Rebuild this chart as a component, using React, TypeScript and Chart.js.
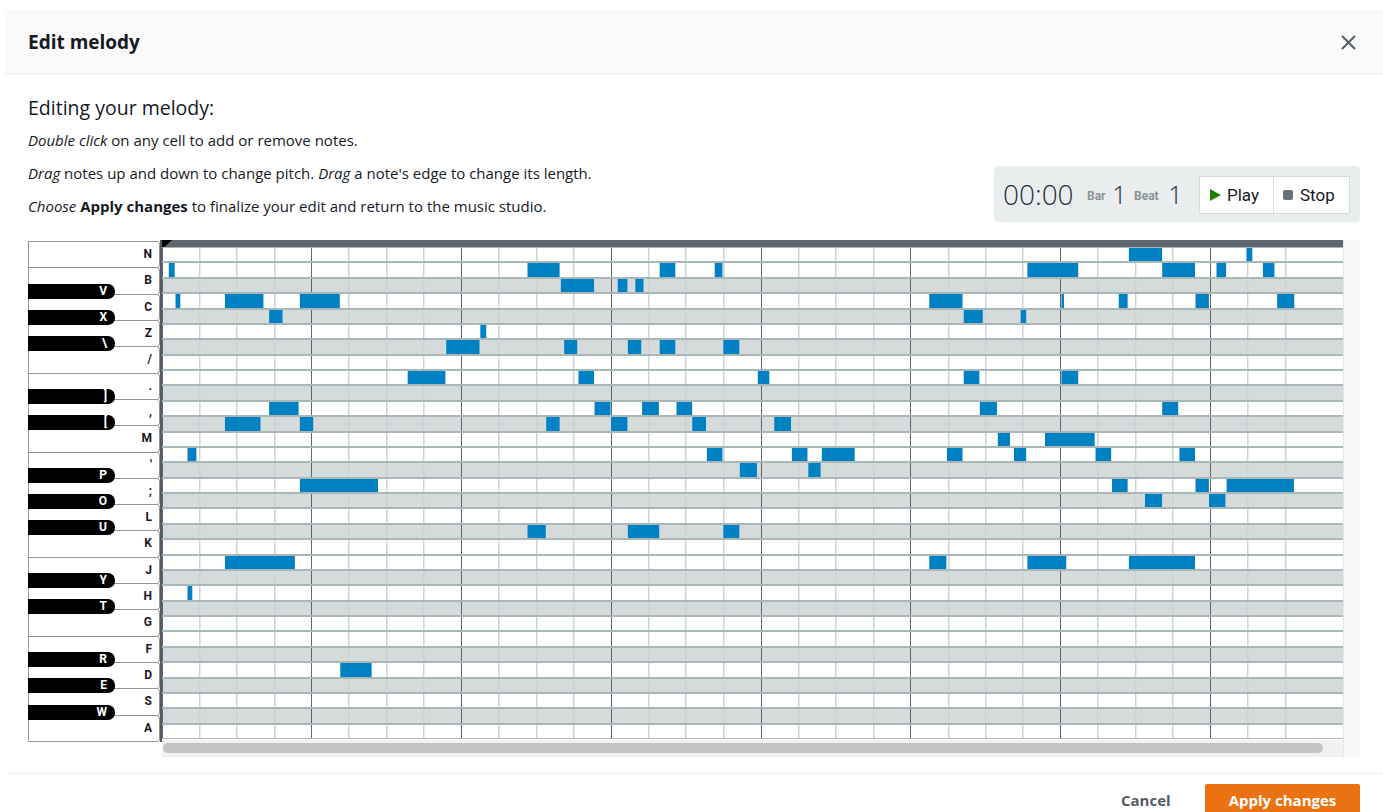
import React, { useEffect, useRef } from 'react';
import { Chart, registerables } from 'chart.js';

Chart.register(...registerables);

// ---- data ----
const keyRows = ['N', 'B', 'V', 'C', 'X', 'Z', '\\', '/', '.', ']', ',', '[', 'M', "'", 'P', ';', 'O', 'L', 'U', 'K', 'J', 'Y', 'H', 'T', 'G', 'F', 'R', 'D', 'E', 'S', 'W', 'A'];
const blackKeyLabels = ['V', 'X', '\\', ']', '[', 'P', 'O', 'U', 'Y', 'T', 'R', 'E', 'W'];

const noteKeys = [
  'N', 'N',
  'B', 'B', 'B', 'B', 'B', 'B', 'B', 'B',
  'V', 'V', 'V',
  'C', 'C', 'C', 'C', 'C', 'C', 'C', 'C',
  'X', 'X', 'X',
  'Z',
  '\\', '\\', '\\', '\\', '\\',
  '.', '.', '.', '.', '.',
  ',', ',', ',', ',', ',', ',',
  '[', '[', '[', '[', '[', '[',
  'M', 'M',
  "'", "'", "'", "'", "'", "'", "'", "'",
  'P', 'P',
  ';', ';', ';', ';',
  'O', 'O',
  'U', 'U', 'U',
  'J', 'J', 'J', 'J',
  'H',
  'D',
];
const noteStarts = [
  25.83, 28.97,
  0.19, 9.77, 13.3, 14.77, 23.12, 26.72, 28.17, 29.41,
  10.66, 12.18, 12.65,
  0.37, 1.69, 3.69, 20.5, 24.03, 25.56, 27.61, 29.79,
  2.87, 21.42, 22.94,
  8.51,
  7.6, 10.75, 12.45, 13.3, 15.0,
  6.57, 11.13, 15.92, 21.42, 24.03,
  2.87, 11.56, 12.83, 13.75, 21.85, 26.72,
  1.69, 3.69, 10.27, 12.0, 14.17, 16.36,
  22.33, 23.59,
  0.69, 14.56, 16.83, 17.63, 20.97, 22.76, 24.94, 27.18,
  15.44, 17.27,
  3.69, 25.38, 27.61, 28.44,
  26.26, 27.97,
  9.77, 12.45, 15.0,
  1.69, 20.5, 23.12, 25.83,
  0.69,
  4.77,
];
const noteEnds = [
  26.7, 29.11,
  0.33, 10.61, 13.7, 14.96, 24.46, 27.58, 28.41, 29.7,
  11.53, 12.42, 12.85,
  0.48, 2.7, 4.74, 21.37, 24.08, 25.78, 27.95, 30.23,
  3.21, 21.91, 23.07,
  8.65,
  8.47, 11.08, 12.79, 13.7, 15.41,
  7.56, 11.53, 16.21, 21.82, 24.46,
  3.64, 11.97, 13.26, 14.15, 22.29, 27.13,
  2.62, 4.03, 10.61, 12.42, 14.52, 16.79,
  22.64, 24.9,
  0.91, 14.96, 17.23, 18.49, 21.37, 23.07, 25.34, 27.58,
  15.88, 17.58,
  5.76, 25.78, 27.95, 30.22,
  26.7, 28.39,
  10.24, 13.27, 15.41,
  3.54, 20.94, 24.14, 27.58,
  0.8,
  5.59,
];
const beatsPerBar = 4;
const visibleBeats = 31.54;

// ---- styles ----
const FONT = "'Open Sans', Roboto, Arial, sans-serif";
const KEYFONT = "Roboto, 'Open Sans', Arial, sans-serif";
const INK = '#16191f';

const abs = (left: number, top: number, extra: React.CSSProperties = {}): React.CSSProperties => ({
  position: 'absolute',
  left,
  top,
  ...extra,
});

const rowBgPlugin = {
  id: 'rowBg',
  beforeDraw(chart: any) {
    const { ctx, chartArea, scales } = chart;
    const y = scales.y;
    const h = Math.abs(y.getPixelForValue(1) - y.getPixelForValue(0));
    ctx.save();
    keyRows.forEach((k, i) => {
      const c = y.getPixelForValue(i);
      ctx.fillStyle = blackKeyLabels.includes(k) ? '#d5dbdb' : '#ffffff';
      ctx.fillRect(chartArea.left, c - h / 2, chartArea.right - chartArea.left, h);
    });
    ctx.restore();
  },
};

export default function App() {
  const canvasRef = useRef<HTMLCanvasElement | null>(null);

  useEffect(() => {
    if (!canvasRef.current) return;
    const chart = new Chart(canvasRef.current, {
      type: 'bar',
      data: {
        labels: keyRows,
        datasets: [
          {
            data: noteKeys.map((k, i) => ({ y: k, x: [noteStarts[i], noteEnds[i]] })) as any,
            backgroundColor: '#0081c3',
            borderWidth: 0,
            borderSkipped: false,
            barPercentage: 1,
            categoryPercentage: 1,
          },
        ],
      },
      options: {
        indexAxis: 'y',
        animation: false,
        responsive: true,
        maintainAspectRatio: false,
        events: [],
        layout: { padding: 0, autoPadding: false },
        plugins: { legend: { display: false }, tooltip: { enabled: false } },
        scales: {
          x: {
            type: 'linear',
            position: 'top',
            min: 0,
            max: visibleBeats,
            ticks: { display: false, stepSize: 1 },
            grid: {
              drawTicks: false,
              color: (c: any) => (c.tick && c.tick.value % beatsPerBar === 0 ? '#5f666e' : '#cbd4d4'),
              lineWidth: (c: any) => (c.tick && c.tick.value % beatsPerBar === 0 ? 1 : 1.5),
            },
            border: { display: false },
            afterBuildTicks: (s: any) => {
              s.ticks = s.ticks.filter((t: any) => Number.isInteger(t.value));
            },
            afterFit: (s: any) => {
              s.height = 0;
            },
          },
          y: {
            type: 'category',
            offset: true,
            ticks: { display: false },
            grid: { offset: true, drawTicks: false, color: '#aab7b8', lineWidth: 2, z: 1 },
            border: { display: false },
            afterFit: (s: any) => {
              s.width = 0;
            },
          },
        },
      },
      plugins: [rowBgPlugin],
    });
    return () => chart.destroy();
  }, []);

  const whiteKeys = keyRows.filter((k) => !blackKeyLabels.includes(k));
  const pianoH = 500;
  const wH = pianoH / whiteKeys.length;
  const blackKeys: { label: string; top: number }[] = [];
  let whiteCount = 0;
  keyRows.forEach((k) => {
    if (blackKeyLabels.includes(k)) {
      blackKeys.push({ label: k, top: whiteCount * wH - 10 });
    } else {
      whiteCount += 1;
    }
  });

  const line = (top: number, children: React.ReactNode) => (
    <div style={abs(28, top, { fontSize: 15, lineHeight: '20px', color: INK, whiteSpace: 'nowrap' })}>{children}</div>
  );

  return (
    <div
      style={{
        position: 'fixed',
        left: 0,
        top: 0,
        width: 1383,
        height: 812,
        overflow: 'hidden',
        background: '#ffffff',
        fontFamily: FONT,
        color: INK,
      }}
    >
      {/* header */}
      <div style={abs(5, 10, { width: 1378, height: 63, background: '#fafafa', borderBottom: '1px solid #eaeded' })} />
      <div style={abs(28, 30, { fontSize: 19, fontWeight: 700, lineHeight: '24px', color: INK })}>Edit melody</div>
      <svg style={abs(1341, 35)} width={15} height={15} viewBox="0 0 15 15">
        <line x1={1} y1={1} x2={14} y2={14} stroke="#545b64" strokeWidth={2} />
        <line x1={14} y1={1} x2={1} y2={14} stroke="#545b64" strokeWidth={2} />
      </svg>

      {/* intro text */}
      <div style={abs(28, 95, { fontSize: 19.5, lineHeight: '26px', color: INK, whiteSpace: 'nowrap' })}>Editing your melody:</div>
      {line(130, (
        <>
          <i>Double click</i> on any cell to add or remove notes.
        </>
      ))}
      {line(163, (
        <>
          <i>Drag</i> notes up and down to change pitch. <i>Drag</i> a note's edge to change its length.
        </>
      ))}
      {line(196, (
        <>
          <i>Choose</i> <b>Apply changes</b> to finalize your edit and return to the music studio.
        </>
      ))}

      {/* transport */}
      <div style={abs(994, 166, { width: 366, height: 56, background: '#eaeded', borderRadius: 4 })} />
      <div style={abs(1003, 176, { fontSize: 28, fontWeight: 300, lineHeight: '36px', color: '#232f3e' })}>00:00</div>
      <div style={abs(1087, 187, { fontSize: 12, fontWeight: 700, lineHeight: '18px', color: '#879596', fontFamily: KEYFONT })}>Bar</div>
      <div style={abs(1112, 177, { fontSize: 26, fontWeight: 300, lineHeight: '34px', color: '#232f3e' })}>1</div>
      <div style={abs(1134, 187, { fontSize: 12, fontWeight: 700, lineHeight: '18px', color: '#879596', fontFamily: KEYFONT })}>Beat</div>
      <div style={abs(1168, 177, { fontSize: 26, fontWeight: 300, lineHeight: '34px', color: '#232f3e' })}>1</div>
      <div style={abs(1199, 176, { width: 151, height: 38, boxSizing: 'border-box', background: '#ffffff', border: '1px solid #d5dbdb' })} />
      <div style={abs(1273, 177, { width: 1, height: 36, background: '#d5dbdb' })} />
      <svg style={abs(1210, 189)} width={11} height={12} viewBox="0 0 11 12">
        <polygon points="0,0 11,6 0,12" fill="#1d8102" />
      </svg>
      <div style={abs(1227, 184, { fontSize: 17, lineHeight: '22px', color: INK, fontFamily: KEYFONT })}>Play</div>
      <div style={abs(1283, 190, { width: 10, height: 10, background: '#687078', borderRadius: 2 })} />
      <div style={abs(1300, 184, { fontSize: 17, lineHeight: '22px', color: INK, fontFamily: KEYFONT })}>Stop</div>

      {/* piano */}
      <div style={abs(28, 241, { width: 132, height: pianoH, fontFamily: KEYFONT })}>
        {whiteKeys.map((k, i) => (
          <div
            key={'w' + k}
            style={abs(0, i * wH, {
              width: 132,
              height: wH + 1,
              boxSizing: 'border-box',
              border: '1px solid #8d9999',
              borderRadius: '0 3px 3px 0',
              background: '#ffffff',
            })}
          >
            <div
              style={{
                position: 'absolute',
                right: 7,
                top: 0,
                height: wH - 1,
                lineHeight: `${wH - 1}px`,
                fontSize: 12,
                fontWeight: 700,
                color: INK,
              }}
            >
              {k}
            </div>
          </div>
        ))}
        {blackKeys.map((b) => (
          <div
            key={'b' + b.label}
            style={abs(0, b.top, {
              width: 87,
              height: 15,
              background: '#000000',
              borderRadius: '0 7px 7px 0',
            })}
          >
            <div
              style={{
                position: 'absolute',
                right: 8,
                top: 0,
                lineHeight: '15px',
                fontSize: 12,
                fontWeight: 700,
                color: '#ffffff',
              }}
            >
              {b.label}
            </div>
          </div>
        ))}
      </div>

      {/* grid chrome */}
      <div style={abs(162, 240, { width: 1181, height: 7, background: '#5f666e' })} />
      <svg style={abs(161, 240)} width={12} height={11} viewBox="0 0 12 11">
        <polygon points="0,0 11,0 0,10" fill="#000000" />
      </svg>
      <div style={abs(1343, 240, { width: 17, height: 517, background: '#f7f7f7', borderLeft: '1px solid #e6e6e6', boxSizing: 'border-box' })} />
      <div style={abs(162, 740, { width: 1181, height: 17, background: '#f1f1f1' })} />
      <div style={abs(163, 743, { width: 1160, height: 10, background: '#c4c4c4', borderRadius: 5 })} />

      {/* chart */}
      <div style={abs(162, 247, { width: 1181, height: 492 })}>
        <canvas ref={canvasRef} />
      </div>
      <div style={abs(160, 240, { width: 2, height: 502, background: '#545b64' })} />

      {/* footer */}
      <div style={abs(6, 773, { width: 1377, height: 1, background: '#eaeded' })} />
      <div style={abs(1121, 790, { fontSize: 15, fontWeight: 700, lineHeight: '20px', color: '#545b64' })}>Cancel</div>
      <div
        style={abs(1205, 784, {
          width: 155,
          height: 36,
          background: '#ec7211',
          borderRadius: 2,
          color: '#ffffff',
          fontSize: 15,
          fontWeight: 700,
          lineHeight: '32px',
          textAlign: 'center',
        })}
      >
        Apply changes
      </div>
    </div>
  );
}
